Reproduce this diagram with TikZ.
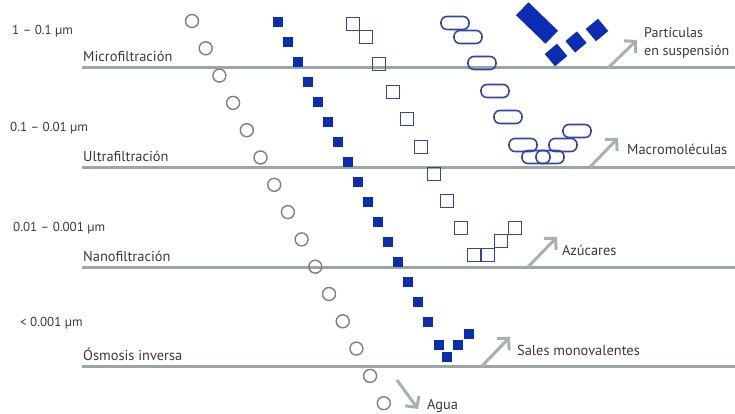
\documentclass[tikz,border=0pt]{standalone}
\usepackage{fontspec}
\setmainfont{PT Sans}
\usetikzlibrary{arrows.meta}
\definecolor{linegray}{HTML}{9CA6A2}
\definecolor{arrowgray}{HTML}{A9B1AE}
\definecolor{circgray}{HTML}{808080}
\definecolor{fillblue}{HTML}{0B2DB4}
\definecolor{lineblue}{HTML}{3445A8}
\definecolor{textgray}{HTML}{3A3A3A}
\begin{document}
\begin{tikzpicture}[x=1pt,y=-1pt,
  membrane/.style={draw=linegray,line width=3pt},
  waterc/.style={circle,draw=circgray,line width=1.4pt,minimum size=13pt,inner sep=0pt},
  salt/.style={rectangle,fill=fillblue,minimum size=9.5pt,inner sep=0pt},
  sugar/.style={rectangle,draw=lineblue,line width=1.4pt,minimum size=13pt,inner sep=0pt},
  macro/.style={rectangle,rounded corners=6pt,draw=lineblue,line width=1.6pt,minimum width=28pt,minimum height=13pt,inner sep=0pt},
  particle/.style={rectangle,fill=fillblue,inner sep=0pt},
  passarrow/.style={draw=arrowgray,line width=3pt,-{Straight Barb[length=8pt,width=17pt]}},
  lbl/.style={font=\fontsize{14.4}{17}\selectfont,text=textgray,inner sep=0pt,anchor=base west},
  size/.style={font=\fontsize{13}{15}\selectfont,text=textgray,inner sep=0pt,anchor=base west},
]
\useasboundingbox[fill=white] (0,0) rectangle (735,414);

% membranes
\coordinate (m1a) at (82,68);  \coordinate (m1b) at (735,68);
\coordinate (m2a) at (82,167); \coordinate (m2b) at (735,167);
\coordinate (m3a) at (82,267); \coordinate (m3b) at (735,267);
\coordinate (m4a) at (82,366); \coordinate (m4b) at (735,366);
\draw[membrane] (m1a) -- (m1b);
\draw[membrane] (m2a) -- (m2b);
\draw[membrane] (m3a) -- (m3b);
\draw[membrane] (m4a) -- (m4b);

% water circles
\foreach \i in {0,...,14}
  \node[waterc] (w\i) at ({192+13.7*\i},{21+27.3*\i}) {};

% salts (filled small squares)
\foreach \i in {0,...,15}
  \node[salt] (s\i) at ({278+10*\i},{22+20*\i}) {};
\node[salt] (s16) at (439,345) {};
\node[salt] (s17) at (447,357) {};
\node[salt] (s18) at (458,345) {};
\node[salt] (s19) at (469,334) {};

% sugars (open squares)
\foreach \i/\x/\y in {0/353/24,1/366/37,2/379/64,3/393/92,4/407/119,5/421/147,6/434/174,7/447/201,8/461/228,9/474/255,10/488/255,11/501/241,12/515/228}
  \node[sugar] (z\i) at (\x,\y) {};

% macromolecules (ovals)
\foreach \i/\x/\y in {0/455/23,1/468/37,2/482/63,3/495/91,4/508/117,5/523/145,6/536/157,7/550/157,8/563/145,9/577/131}
  \node[macro] (o\i) at (\x,\y) {};

% suspended particles
\node[particle,minimum width=41pt,minimum height=18pt,rotate=-44] (p0) at (537,23) {};
\node[particle,minimum size=16pt,rotate=40] (p1) at (556,55) {};
\node[particle,minimum size=15pt,rotate=40] (p2) at (576,42) {};
\node[particle,minimum size=16pt,rotate=40] (p3) at (597,30) {};

% passing arrows
\coordinate (a1s) at (608,68);  \coordinate (a1e) at (637,40);
\coordinate (a2s) at (590,167); \coordinate (a2e) at (618,138);
\coordinate (a3s) at (528,267); \coordinate (a3e) at (557,237);
\coordinate (a4s) at (482,366); \coordinate (a4e) at (510,337);
\coordinate (a5s) at (397,380); \coordinate (a5e) at (418,409);
\draw[passarrow] (a1s) -- (a1e);
\draw[passarrow] (a2s) -- (a2e);
\draw[passarrow] (a3s) -- (a3e);
\draw[passarrow] (a4s) -- (a4e);
\draw[passarrow] (a5s) -- (a5e);

% left labels
\node[size] (r1) at (12,35) {1 – 0.1 µm};
\node[lbl]  (n1) at (83,62) {Microfiltración};
\node[size] (r2) at (10,132) {0.1 – 0.01 µm};
\node[lbl]  (n2) at (83,161) {Ultrafiltración};
\node[size] (r3) at (13,231) {0.01 – 0.001 µm};
\node[lbl]  (n3) at (83,261) {Nanofiltración};
\node[size] (r4) at (20,326) {< 0.001 µm};
\node[lbl]  (n4) at (83,360) {Ósmosis inversa};

% right labels
\node[lbl,font=\fontsize{14}{16}\selectfont] (t1) at (644,38) {Partículas};
\node[lbl,font=\fontsize{14}{16}\selectfont] (t1b) at (644,56) {en suspensión};
\node[lbl] (t2) at (627,155) {Macromoléculas};
\node[lbl] (t3) at (562,255) {Azúcares};
\node[lbl] (t4) at (517,355) {Sales monovalentes};
\node[lbl] (t5) at (427,409) {Agua};
\end{tikzpicture}
\end{document}
